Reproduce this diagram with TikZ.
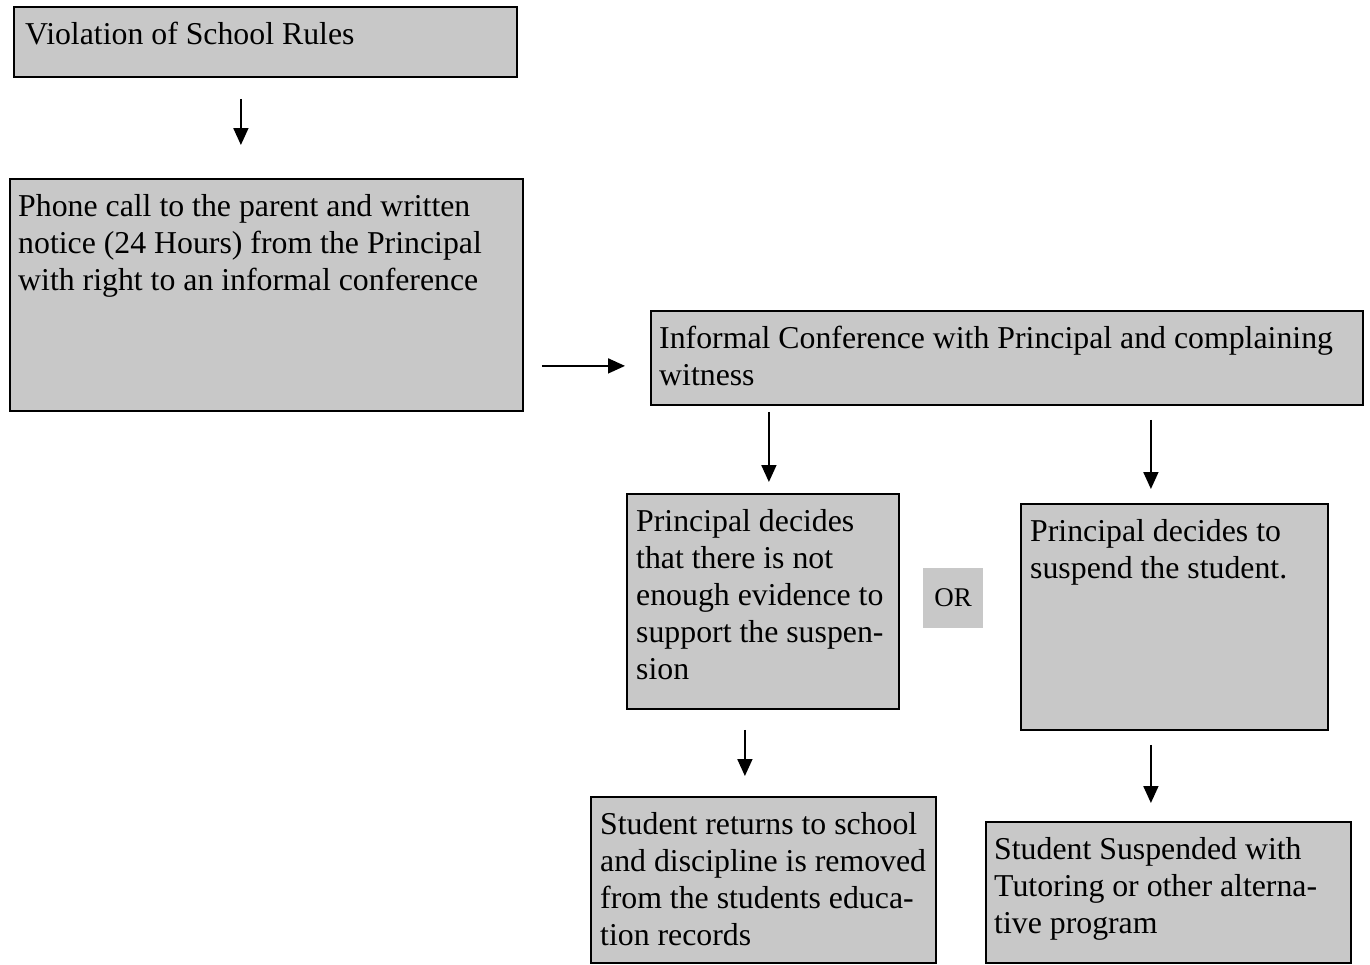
\documentclass[tikz,border=0pt]{standalone}
\usepackage{fontspec}
\setmainfont{Liberation Serif}
\usetikzlibrary{arrows.meta}
\definecolor{boxgray}{RGB}{200,200,200}
\tikzset{
  box/.style={draw=black, line width=1.8pt, fill=boxgray, anchor=north west, inner sep=0pt},
  txt/.style={anchor=base west, inner sep=0pt, font=\fontsize{31.8}{37}\selectfont},
  orbox/.style={fill=boxgray, minimum width=60pt, minimum height=60pt, inner sep=0pt, font=\fontsize{27}{30}\selectfont},
  arr/.style={line width=1.8pt, -{Triangle[length=17pt,width=15pt]}}
}
\newcommand{\lines}[1]{\begin{tabular}[t]{@{}l@{}}#1\end{tabular}}
\begin{document}
\begin{tikzpicture}[x=1pt,y=-1pt]
\useasboundingbox (0,0) rectangle (1370,964);
% boxes
\node[box, minimum width=503pt, minimum height=70pt]  (v) at (13,6) {};
\node[box, minimum width=513pt, minimum height=232pt] (p) at (9,178) {};
\node[box, minimum width=712pt, minimum height=94pt]  (i) at (650,310) {};
\node[box, minimum width=272pt, minimum height=215pt] (n) at (626,493) {};
\node[box, minimum width=307pt, minimum height=226pt] (s) at (1020,503) {};
\node[box, minimum width=345pt, minimum height=166pt] (r) at (590,796) {};
\node[box, minimum width=365pt, minimum height=141pt] (t) at (985,821) {};
\node[orbox] (or) at (953,598) {OR};
% texts
\node[txt] (vt) at ([shift={(12,38)}]v.north west) {\lines{Violation of School Rules}};
\node[txt] (pt) at ([shift={(9,38)}]p.north west) {\lines{Phone call to the parent and written\\notice (24 Hours) from the Principal\\with right to an informal conference}};
\node[txt] (it) at ([shift={(9,38)}]i.north west) {\lines{Informal Conference with Principal and complaining\\witness}};
\node[txt] (nt) at ([shift={(10,38)}]n.north west) {\lines{Principal decides\\that there is not\\enough evidence to\\support the suspen-\\sion}};
\node[txt] (st) at ([shift={(10,38)}]s.north west) {\lines{Principal decides to\\suspend the student.}};
\node[txt] (rt) at ([shift={(10,38)}]r.north west) {\lines{Student returns to school\\and discipline is removed\\from the students educa-\\tion records}};
\node[txt] (tt) at ([shift={(9,38)}]t.north west) {\lines{Student Suspended with\\Tutoring or other alterna-\\tive program}};
% arrows
\draw[arr, shorten <=21pt, shorten >=33pt] ([xshift=-24.5pt]v.south) -- ([xshift=-24.5pt]v.south |- p.north);
\draw[arr, shorten <=18pt, shorten >=25pt] ([yshift=-71pt]p.east) -- ([yshift=-71pt]p.east -| i.west);
\draw[arr, shorten <=6pt, shorten >=11pt] ([xshift=6pt]n.north |- i.south) -- ([xshift=6pt]n.north);
\draw[arr, shorten <=14pt, shorten >=14pt] ([xshift=-23.5pt]s.north |- i.south) -- ([xshift=-23.5pt]s.north);
\draw[arr, shorten <=20pt, shorten >=20pt] ([xshift=-18pt]n.south) -- ([xshift=-18pt]n.south |- r.north);
\draw[arr, shorten <=14pt, shorten >=18pt] ([xshift=-23.5pt]s.south) -- ([xshift=-23.5pt]s.south |- t.north);
\end{tikzpicture}
\end{document}
